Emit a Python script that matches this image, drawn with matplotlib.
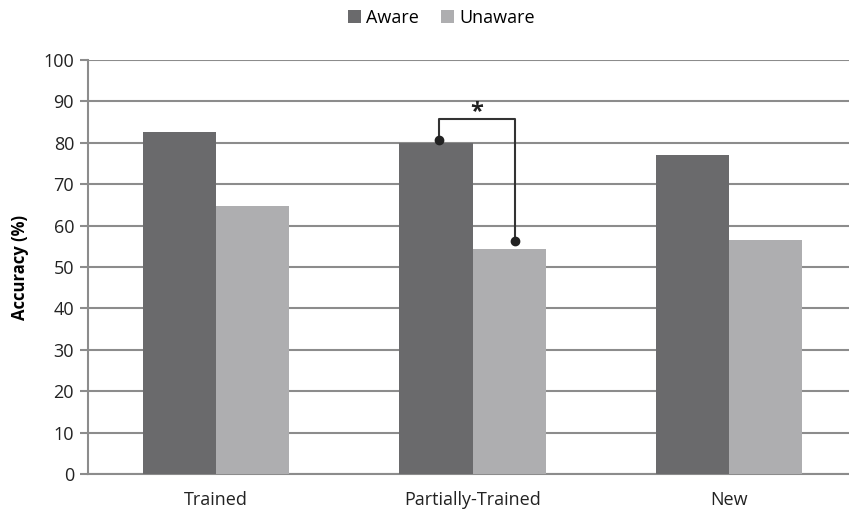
"""
Accuracy by training condition for aware and unaware participants.
"""
import numpy as np
import matplotlib
matplotlib.use('Agg')
import matplotlib.pyplot as plt

conditions = ['Trained', 'Partially-Trained', 'New']
aware = [82.6, 80.0, 77.0]
unaware = [64.7, 54.3, 56.5]

# significance bracket on the Partially-Trained pair
sig_left = 80.7
sig_right = 56.3
sig_top = 85.7

plt.rcParams['font.family'] = ['Open Sans', 'DejaVu Sans']

fig = plt.figure(figsize=(8.49, 5.12), dpi=100)
ax = fig.add_axes([88 / 849, 38 / 512, 769 / 849, 414 / 512])

x = np.arange(len(conditions))
width = 0.285
grey_dark = '#6a6a6c'
grey_light = '#aeaeb0'
grid_col = '#8c8c8c'
fs = 13

ax.bar(x - width / 2, aware, width, color=grey_dark, label='Aware', zorder=3)
ax.bar(x + width / 2, unaware, width, color=grey_light, label='Unaware', zorder=3)

ax.set_xlim(-0.5, 2.5)
ax.set_ylim(0, 100)
ax.set_yticks(range(0, 101, 10))
ax.set_xticks(x)
ax.set_xticklabels(conditions, fontsize=fs, color='#222222')
ax.tick_params(axis='x', length=0, pad=12)
ax.tick_params(axis='y', length=6, width=1.5, color=grid_col,
               labelsize=fs, labelcolor='#222222', pad=4)
ax.yaxis.grid(True, color=grid_col, linewidth=1.5, zorder=0)
for side in ['top', 'right']:
    ax.spines[side].set_visible(False)
for side in ['left', 'bottom']:
    ax.spines[side].set_color(grid_col)
    ax.spines[side].set_linewidth(1.5)

ax.set_ylabel('Accuracy (%)', fontsize=12, fontweight='bold', labelpad=10)

# bracket with end dots and asterisk
xl = 1 - 0.13
xr = 1 + 0.165
ax.plot([xl, xl, xr, xr], [sig_left, sig_top, sig_top, sig_right],
        color='#333333', linewidth=1.5, zorder=4, clip_on=False)
ax.plot([xl, xr], [sig_left, sig_right], 'o', color='#222222',
        markersize=6, zorder=5)
ax.text((xl + xr) / 2, sig_top - 1.2, '*', ha='center', va='bottom',
        fontsize=17, fontweight='bold', color='#222222')

fig.legend(loc='upper center', bbox_to_anchor=(0.52, 1.015), ncol=2,
           frameon=False, fontsize=fs, handlelength=0.7, handleheight=0.7,
           handletextpad=0.3, columnspacing=1.2)

fig.savefig('out.png', dpi=100)
